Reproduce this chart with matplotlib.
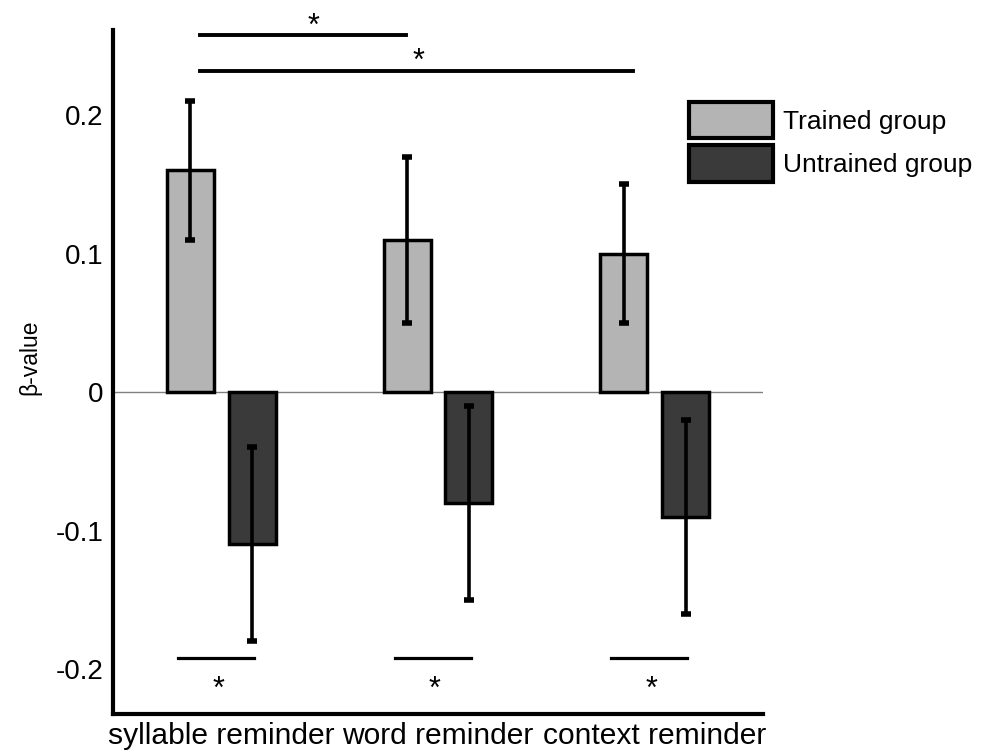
import matplotlib
matplotlib.use('Agg')
import matplotlib.pyplot as plt
import numpy as np

plt.rcParams['font.family'] = ['Liberation Sans', 'DejaVu Sans']

categories = ['syllable reminder', 'word reminder', 'context reminder']
trained = [0.16, 0.11, 0.10]
trained_err = [0.05, 0.06, 0.05]
untrained = [-0.11, -0.08, -0.09]
untrained_err = [0.07, 0.07, 0.07]
series_names = ['Trained group', 'Untrained group']

x = np.arange(1, len(categories) + 1)
off = 0.143
w = 0.217

fig = plt.figure(figsize=(9.9, 7.53), dpi=100)
ax = fig.add_axes([113/990, 1 - 714/753, 650/990, 684/753])

ax.axhline(0, color='#808080', lw=1, zorder=0.5)
ax.bar(x - off, trained, w, color='#b4b4b4', edgecolor='black', linewidth=2.5,
       label=series_names[0], zorder=1)
ax.bar(x + off, untrained, w, color='#3a3a3a', edgecolor='black', linewidth=2.5,
       label=series_names[1], zorder=1)
ax.errorbar(x - off, trained, yerr=trained_err, fmt='none', ecolor='black',
            elinewidth=2.6, capsize=3.5, capthick=4, zorder=3)
ax.errorbar(x + off, untrained, yerr=untrained_err, fmt='none', ecolor='black',
            elinewidth=2.6, capsize=3.5, capthick=4, zorder=3)

# significance markers between conditions (top)
ax.plot([0.9, 1.85], [0.258, 0.258], color='black', lw=2.8, clip_on=False)
ax.text(1.425, 0.2745, '*', ha='center', va='top', fontsize=22, clip_on=False)
ax.plot([0.9, 2.9], [0.232, 0.232], color='black', lw=2.8, clip_on=False)
ax.text(1.91, 0.2495, '*', ha='center', va='top', fontsize=22)

# significance markers between groups (bottom)
for c in x:
    ax.plot([c - 0.2, c + 0.15], [-0.192, -0.192], color='black', lw=2.3)
    ax.text(c - 0.015, -0.2045, '*', ha='center', va='top', fontsize=22)

ax.set_xlim(0.5, 3.5)
ax.set_ylim(-0.2325, 0.2614)
ax.set_xticks(x)
ax.set_xticklabels(categories, fontsize=21.6)
ax.set_yticks([-0.2, -0.1, 0, 0.1, 0.2])
ax.set_yticklabels(['-0.2', '-0.1', '0', '0.1', '0.2'], fontsize=20)
ax.tick_params(axis='both', length=0)
ax.tick_params(axis='y', pad=7)
ax.tick_params(axis='x', pad=6)

for s in ['top', 'right']:
    ax.spines[s].set_visible(False)
for s in ['left', 'bottom']:
    ax.spines[s].set_linewidth(3)

ax.set_ylabel('β-value', fontsize=16.5)
ax.yaxis.set_label_coords(-0.11, 0.522)

leg = fig.legend(loc='upper left', bbox_to_anchor=(689/990, 1 - 102/753),
                 frameon=False, fontsize=19, borderpad=0, borderaxespad=0,
                 handlelength=3.2, handleheight=1.75, handletextpad=0.35,
                 labelspacing=0.25)
for p in leg.get_patches():
    p.set_linewidth(3)

fig.savefig('out.png', dpi=100)
